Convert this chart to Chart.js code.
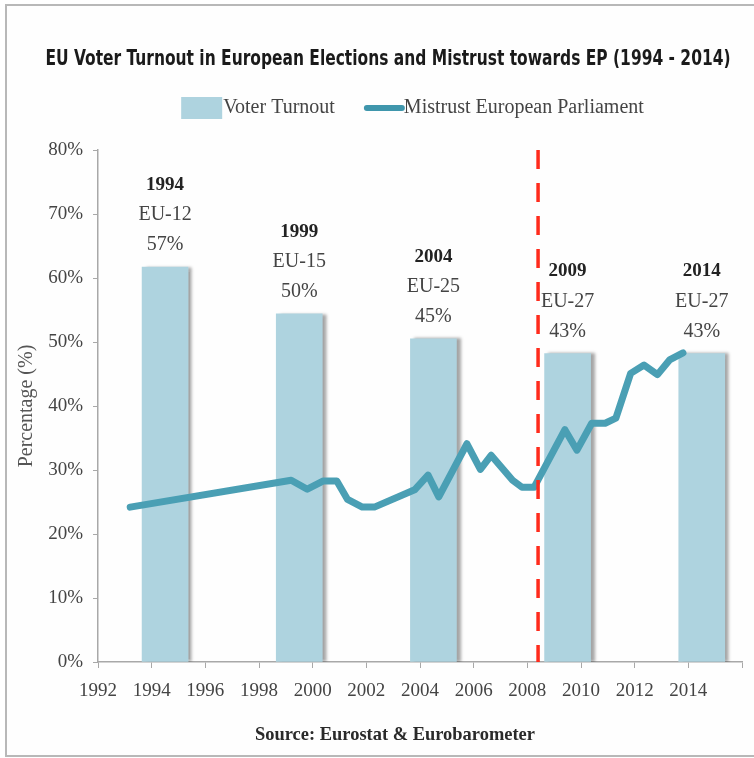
<!DOCTYPE html>
<html>
<head>
<meta charset="utf-8">
<script src="https://cdn.jsdelivr.net/npm/chart.js@4.4.1/dist/chart.umd.min.js"></script>
<style>
    html, body { margin: 0; padding: 0; background: #fff; overflow: hidden; }
    #frame {
        position: absolute; left: 5px; top: 4px; width: 770px; height: 749px;
        border: 2px solid #b8b8b8; background: #fefefe;
    }
    #wrap { position: absolute; left: 0; top: 0; width: 754px; height: 758px; }
</style>
</head>
<body>
<div id="frame"></div>
<div id="wrap"><canvas id="myChart" width="754" height="758"></canvas></div>
<script>
(function () {
    "use strict";

    // election bars
    var electionYears = ['1994', '1999', '2004', '2009', '2014'];
    var memberStates = ['EU-12', 'EU-15', 'EU-25', 'EU-27', 'EU-27'];
    var turnoutLabels = ['57%', '50%', '45%', '43%', '43%'];
    var barX = [1994.5, 1999.5, 2004.5, 2009.5, 2014.5];
    var turnoutBars = [61.7, 54.4, 50.5, 48.2, 48.2];

    // mistrust towards the EP
    var mistrustYears = [1993.2, 1999.2, 1999.8, 2000.4, 2000.9, 2001.3, 2001.85, 2002.3, 2003.8, 2004.3,
        2004.7, 2005.75, 2006.25, 2006.65, 2007.45, 2007.8, 2008.25, 2009.4, 2009.85, 2010.4,
        2010.9, 2011.3, 2011.85, 2012.35, 2012.85, 2013.3, 2013.8];
    var mistrustValues = [24.2, 28.4, 27.0, 28.3, 28.3, 25.4, 24.2, 24.2, 26.9, 29.2,
        25.8, 34.1, 30.1, 32.3, 28.4, 27.3, 27.3, 36.3, 33.1, 37.3,
        37.3, 38.1, 45.1, 46.4, 44.9, 47.2, 48.3];

    var crisisYear = 2008.4;
    var yTicks = [0, 10, 20, 30, 40, 50, 60, 70, 80];

    var chartTitle = 'EU Voter Turnout in European Elections and Mistrust towards EP (1994 - 2014)';
    var sourceText = 'Source: Eurostat & Eurobarometer';

    var barColor = '#aed3df';
    var lineColor = '#4a9fb4';
    var serif = "'Liberation Serif', 'DejaVu Serif', serif";
    var sans = "'Liberation Sans Narrow', 'DejaVu Sans Condensed', 'Liberation Sans', sans-serif";

    var barData = barX.map(function (x, i) { return {x: x, y: turnoutBars[i]}; });
    var lineData = mistrustYears.map(function (x, i) { return {x: x, y: mistrustValues[i]}; });

    // grey shadow on the right side of the bars
    var barShadow = {
        id: 'barShadow',
        beforeDatasetDraw: function (chart, args) {
            if (args.meta.type !== 'bar') return;
            var ctx = chart.ctx;
            ctx.save();
            ctx.shadowColor = 'rgba(0,0,0,0.35)';
            ctx.shadowOffsetX = 4;
            ctx.shadowOffsetY = 0;
            ctx.shadowBlur = 3;
        },
        afterDatasetDraw: function (chart, args) {
            if (args.meta.type !== 'bar') return;
            chart.ctx.restore();
        }
    };

    var crisisLine = {
        id: 'crisisLine',
        afterDatasetsDraw: function (chart) {
            var ctx = chart.ctx;
            var x = chart.scales.x.getPixelForValue(crisisYear);
            var area = chart.chartArea;
            ctx.save();
            ctx.strokeStyle = '#ff2b1c';
            ctx.lineWidth = 3.5;
            ctx.setLineDash([19, 14]);
            ctx.beginPath();
            ctx.moveTo(x, area.top);
            ctx.lineTo(x, area.bottom);
            ctx.stroke();
            ctx.restore();
        }
    };

    var electionLabels = {
        id: 'electionLabels',
        afterDatasetsDraw: function (chart) {
            var ctx = chart.ctx;
            var meta = chart.getDatasetMeta(1);
            ctx.save();
            ctx.textAlign = 'center';
            ctx.textBaseline = 'middle';
            meta.data.forEach(function (bar, i) {
                var y = bar.y - 22;
                ctx.fillStyle = '#222';
                ctx.font = 'bold 19px ' + serif;
                ctx.fillText(electionYears[i], bar.x, y - 60);
                ctx.fillStyle = '#444';
                ctx.font = '20px ' + serif;
                ctx.fillText(memberStates[i], bar.x, y - 30);
                ctx.fillText(turnoutLabels[i], bar.x, y);
            });
            ctx.restore();
        }
    };

    function condensedText(ctx, text, cx, cy, width) {
        var w = ctx.measureText(text).width;
        ctx.save();
        ctx.translate(cx, cy);
        ctx.scale(width / w, 1);
        ctx.textAlign = 'center';
        ctx.textBaseline = 'middle';
        ctx.fillText(text, 0, 0);
        ctx.restore();
    }

    var chartTexts = {
        id: 'chartTexts',
        afterDraw: function (chart) {
            var ctx = chart.ctx;
            ctx.save();
            ctx.fillStyle = '#1a1a1a';
            ctx.font = 'bold 21px ' + sans;
            condensedText(ctx, chartTitle, 388, 60, 685);

            ctx.fillStyle = '#2a2a2a';
            ctx.font = 'bold 19px ' + serif;
            condensedText(ctx, sourceText, 395, 735, 280);

            // legend
            ctx.font = '20px ' + serif;
            ctx.textBaseline = 'middle';
            ctx.textAlign = 'left';
            var labels = chart.data.datasets.map(function (d) { return d.label; });
            var barLabel = labels[1], lineLabel = labels[0];
            var sw = 41, gap = 28, ly = 108;
            var total = sw + ctx.measureText(barLabel).width + gap + sw + ctx.measureText(lineLabel).width;
            var x = 412 - total / 2;
            ctx.fillStyle = barColor;
            ctx.fillRect(x, ly - 11, sw, 22);
            x += sw + 1;
            ctx.fillStyle = '#444';
            ctx.fillText(barLabel, x, ly);
            x += ctx.measureText(barLabel).width + gap;
            ctx.strokeStyle = '#3f96ac';
            ctx.lineWidth = 6;
            ctx.lineCap = 'round';
            ctx.beginPath();
            ctx.moveTo(x + 4, ly);
            ctx.lineTo(x + sw - 2, ly);
            ctx.stroke();
            x += sw;
            ctx.fillText(lineLabel, x, ly);
            ctx.restore();
        }
    };

    var ctx = document.getElementById('myChart').getContext('2d');

    var myChart = new Chart(ctx, {
        type: 'bar',
        data: {
            datasets: [{
                type: 'line',
                label: 'Mistrust European Parliament',
                data: lineData,
                borderColor: lineColor,
                backgroundColor: lineColor,
                borderWidth: 7,
                pointRadius: 0,
                tension: 0,
                borderJoinStyle: 'round',
                borderCapStyle: 'round',
                order: 1
            }, {
                type: 'bar',
                label: 'Voter Turnout',
                data: barData,
                backgroundColor: barColor,
                borderWidth: 0,
                barThickness: 46,
                order: 2
            }]
        },
        options: {
            responsive: false,
            animation: false,
            layout: {
                padding: {left: 0, right: 11, top: 150, bottom: 56}
            },
            plugins: {
                legend: {display: false},
                title: {display: false},
                tooltip: {enabled: false}
            },
            scales: {
                x: {
                    type: 'linear',
                    min: 1992,
                    max: 2016,
                    offset: false,
                    grid: {offset: false, drawOnChartArea: false, drawTicks: true, tickLength: 6, color: '#a8a8a8'},
                    border: {display: true, color: '#a8a8a8', width: 1.5},
                    ticks: {
                        stepSize: 2,
                        padding: 12,
                        color: '#444',
                        font: {family: serif, size: 19},
                        maxRotation: 0,
                        callback: function (v) { return v === 2016 ? '' : String(v); }
                    },
                    afterFit: function (scale) { scale.height = 40; }
                },
                y: {
                    min: 0,
                    max: 80,
                    grid: {offset: false, drawOnChartArea: false, drawTicks: true, tickLength: 5, color: '#a8a8a8'},
                    border: {display: true, color: '#a8a8a8', width: 1.5},
                    afterBuildTicks: function (scale) {
                        scale.ticks = yTicks.map(function (v) { return {value: v}; });
                    },
                    ticks: {
                        padding: 10,
                        color: '#444',
                        font: {family: serif, size: 19},
                        callback: function (v) { return v + '%'; }
                    },
                    title: {
                        display: true,
                        text: 'Percentage (%)',
                        color: '#555',
                        font: {family: serif, size: 20},
                        padding: {top: 15, bottom: 0}
                    },
                    afterFit: function (scale) { scale.width = 98; }
                }
            }
        },
        plugins: [barShadow, crisisLine, electionLabels, chartTexts]
    });
})();
</script>
</body>
</html>
